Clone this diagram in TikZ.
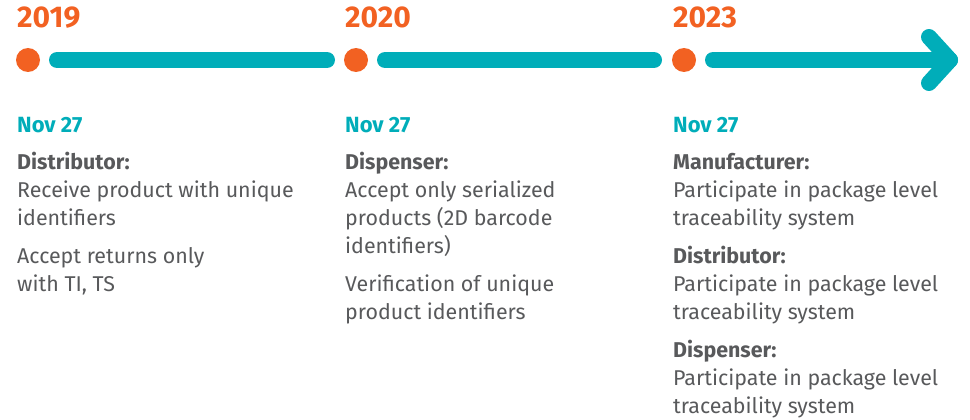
\documentclass[tikz,border=0pt]{standalone}
\usepackage{fontspec}
\setmainfont{Fira Sans}
\definecolor{orng}{HTML}{F26122}
\definecolor{teal}{HTML}{00ADB9}
\definecolor{txt}{HTML}{58595B}
\begin{document}
\begin{tikzpicture}[x=1pt,y=1pt,
  dot/.style={circle,fill=orng,minimum size=24pt,inner sep=0pt},
  bar/.style={teal,line width=16pt,line cap=round,line join=round},
  year/.style={anchor=base west,inner sep=0pt,text=orng,font=\fontsize{30}{32}\selectfont\bfseries},
  datel/.style={anchor=base west,inner sep=0pt,text=teal,font=\fontsize{22}{28}\selectfont\bfseries},
  body/.style={anchor=base west,inner sep=0pt,text=txt,font=\fontsize{21.4}{28}\selectfont}]
\useasboundingbox (0,0) rectangle (970,-420);
% timeline
\node[dot] (d1) at (28,-60) {};
\node[dot] (d2) at (356,-60) {};
\node[dot] (d3) at (684,-60) {};
\coordinate (tip) at (950,-60);
\coordinate (au) at (929,-37);
\coordinate (ad) at (929,-83);
\draw[bar] ([xshift=29pt]d1.center) -- ([xshift=-29pt]d2.center);
\draw[bar] ([xshift=29pt]d2.center) -- ([xshift=-30pt]d3.center);
\draw[bar] ([xshift=29pt]d3.center) -- (tip);
\draw[bar] (au) -- (tip) -- (ad);
% years
\node[year] (y1) at (17,-28) {2019};
\node[year] (y2) at (345,-28) {2020};
\node[year] (y3) at (673,-28) {2023};
% dates
\node[datel] (n1) at (17,-132) {Nov 27};
\node[datel] (n2) at (345,-132) {Nov 27};
\node[datel] (n3) at (673,-132) {Nov 27};
% column 1
\node[body] (a1) at (17,-169) {\parbox[t]{310pt}{\textbf{Distributor:}\\Receive product with unique\\identifiers}};
\node[body] (a2) at (17,-263) {\parbox[t]{310pt}{Accept returns only\\with TI, TS}};
% column 2
\node[body] (b1) at (345,-169) {\parbox[t]{310pt}{\textbf{Dispenser:}\\Accept only serialized\\products (2D barcode\\identifiers)}};
\node[body] (b2) at (345,-291) {\parbox[t]{310pt}{Verification of unique\\product identifiers}};
% column 3
\node[body] (c1) at (673,-169) {\parbox[t]{290pt}{\textbf{Manufacturer:}\\Participate in package level\\traceability system}};
\node[body] (c2) at (673,-263) {\parbox[t]{290pt}{\textbf{Distributor:}\\Participate in package level\\traceability system}};
\node[body] (c3) at (673,-357) {\parbox[t]{290pt}{\textbf{Dispenser:}\\Participate in package level\\traceability system}};
\end{tikzpicture}
\end{document}
